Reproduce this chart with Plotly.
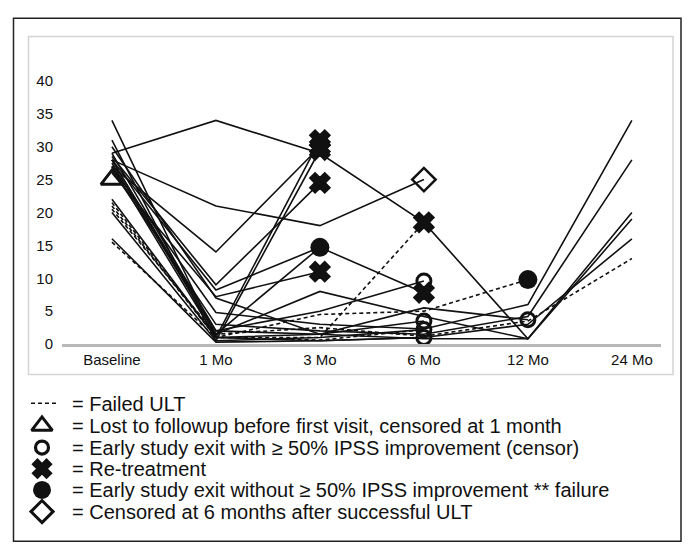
import plotly.graph_objects as go

# measured: the page is photographed with the figure 8px in from the left, flush at the top
OFF_X, OFF_Y = 8, 0
SW, SH = 694, 552                     # screen size
FW, FH = SW - 2 * OFF_X, SH - OFF_Y   # figure size

# ---------------- data ----------------
time_labels = ["Baseline", "1 Mo", "3 Mo", "6 Mo", "12 Mo", "24 Mo"]
y_ticks = [0, 5, 10, 15, 20, 25, 30, 35, 40]

# IPSS per patient (Baseline, 1, 3, 6, 12, 24 Mo); None = no visit
s01 = [29, 34, 29, 18.5, 0.8, 20]
s02 = [28, 21, 18, 25, None, None]
s03 = [27, 14, 30, None, None, None]
s04 = [34, 1, 31, None, None, None]
s05 = [31, 0.5, 29.5, None, None, None]
s06 = [28.5, 9, 24.5, None, None, None]
s07 = [28, 8.2, 14.7, None, None, None]
s08 = [26, 7.2, 11, None, None, None]
s09 = [27.5, 1.5, 14.7, 7.8, None, None]
s10 = [28, 1.5, 8, 4.2, 0.8, 19]
s11 = [29, 2, 5, 9.6, None, None]
s12 = [22, 1, 1.5, 3.5, None, None]
s13 = [20, 0.5, 1, 2.2, None, None]
s14 = [16, 0.3, 0.5, 1.0, None, None]
s15 = [27, 4.8, 3, 2.3, 6, 34]
s16 = [26.5, 3, 2, 1.5, 4.2, 28]
s17 = [28, 2, 1.5, 5.5, 3.7, None]
s18 = [27, 1, 0.5, 1, 3, 16]
s19 = [30, 7, 1.5, 0.8, 0.8, None]
t01 = [25, None, None, None, None, None]

# failed ULT (dashed)
d01 = [21, 1, 1, 18.5, None, None]
d02 = [15.5, 1, 4.5, 5, 9.8, None]
d03 = [20.5, 1.5, 2.5, 1.2, 3.5, 13]
d04 = [21.5, 1, 0.6, 2.2, None, None]

solid_patients = [s01, s02, s03, s04, s05, s06, s07, s08, s09, s10,
                  s11, s12, s13, s14, s15, s16, s17, s18, s19, t01]
dashed_patients = [d01, d02, d03, d04]

# events: (patient, visit index)
retreat_events = [(s03, 2), (s04, 2), (s05, 2), (s06, 2), (s08, 2), (d01, 3), (s09, 3)]
failure_events = [(s07, 2), (d02, 4)]
censor_events = [(s11, 3), (s12, 3), (s13, 3), (s14, 3), (s17, 4)]
censor6_events = [(s02, 3)]
lost_events = [(t01, 0)]

legend_texts = [
    "= Failed ULT",
    "= Lost to followup before first visit, censored at 1 month",
    "= Early study exit with \u2265 50% IPSS improvement (censor)",
    "= Re-treatment",
    "= Early study exit without \u2265 50% IPSS improvement ** failure",
    "= Censored at 6 months after successful ULT",
]

# ---------------- geometry (screen pixels) ----------------
PL, PR = 62, 661      # plot area left/right
PB, PT = 341, 47.3    # plot area bottom/top
FONT = "Liberation Sans, Arial, Helvetica, sans-serif"
INK = "#111111"


def fx(px):
    return (px - OFF_X) / FW


def fy(py):
    return 1 - (py - OFF_Y) / FH


fig = go.Figure()


def add_patient(vals, dash):
    xs = [i for i, v in enumerate(vals) if v is not None]
    ys = [v for v in vals if v is not None]
    fig.add_trace(go.Scatter(
        x=xs, y=ys, mode="lines",
        line=dict(color=INK, width=1.6, dash=dash),
        showlegend=False, hoverinfo="skip", xaxis="x", yaxis="y"))


for p in solid_patients:
    add_patient(p, "solid")
for p in dashed_patients:
    add_patient(p, "4px,3px")


def add_events(events, symbol, size, lw, fill):
    fig.add_trace(go.Scatter(
        x=[i for _, i in events], y=[p[i] for p, i in events],
        mode="markers", cliponaxis=False,
        marker=dict(symbol=symbol, size=size, color=fill,
                    line=dict(color=INK, width=lw)),
        showlegend=False, hoverinfo="skip", xaxis="x", yaxis="y"))


add_events(lost_events, "triangle-up-open", 19, 3, INK)
add_events(censor_events, "circle-open", 14, 3, INK)
add_events(retreat_events, "x", 17, 2.2, INK)
add_events(failure_events, "circle", 19, 0, INK)
add_events(censor6_events, "diamond-open", 18, 2.5, INK)

# ---------------- legend (pixel-coordinate helper axes) ----------------
LEG_TOP = 382
row_y = [402, 424, 446, 467.5, 489, 511]
sym_x = 42
fig.add_trace(go.Scatter(
    x=[31, 58], y=[row_y[0] - 1, row_y[0] - 1], mode="lines",
    line=dict(color=INK, width=1.6, dash="4px,3px"),
    showlegend=False, hoverinfo="skip", xaxis="x2", yaxis="y2"))
leg_syms = [("triangle-up-open", 18, 3, INK),
            ("circle-open", 13, 3.2, INK),
            ("x", 16, 2.2, INK),
            ("circle", 18, 0, INK),
            ("diamond-open", 17, 3, INK)]
for (sym, sz, lw, fc), yy in zip(leg_syms, row_y[1:]):
    fig.add_trace(go.Scatter(
        x=[sym_x], y=[yy], mode="markers", cliponaxis=False,
        marker=dict(symbol=sym, size=sz, color=fc, line=dict(color=INK, width=lw)),
        showlegend=False, hoverinfo="skip", xaxis="x2", yaxis="y2"))

for txt, yy in zip(legend_texts, row_y):
    fig.add_annotation(x=70, y=yy, xref="x2", yref="y2", text=txt,
                       showarrow=False, xanchor="left", yanchor="middle",
                       font=dict(family=FONT, size=20, color=INK))

# ---------------- frames ----------------
def rect(x0, y0, x1, y1, color, width):
    fig.add_shape(type="rect", xref="paper", yref="paper",
                  x0=fx(x0), x1=fx(x1), y0=fy(y0), y1=fy(y1),
                  line=dict(color=color, width=width), fillcolor="rgba(0,0,0,0)",
                  layer="below")


rect(13.5, 10.5, 681, 541, "#222222", 1.5)
rect(28.5, 29, 673, 372, "#d4d4d4", 1.5)

fig_bottom = OFF_Y + FH
fig.update_layout(
    width=FW, height=FH,
    margin=dict(l=0, r=0, t=0, b=0),
    paper_bgcolor="white", plot_bgcolor="rgba(0,0,0,0)",
    showlegend=False,
    xaxis=dict(domain=[fx(PL), fx(PR)], range=[-0.48, 5.28],
               tickmode="array", tickvals=list(range(len(time_labels))),
               ticktext=time_labels, showgrid=False, zeroline=False,
               showline=True, linecolor="#b8b8b8", linewidth=2.5,
               ticks="", tickfont=dict(family=FONT, size=15, color=INK),
               fixedrange=True),
    yaxis=dict(domain=[fy(PB), fy(PT)], range=[0, 44],
               tickmode="array", tickvals=y_ticks,
               showgrid=False, zeroline=False, showline=False,
               ticks="", ticklabelstandoff=8,
               tickfont=dict(family=FONT, size=15, color=INK),
               fixedrange=True),
    xaxis2=dict(domain=[0, 1], range=[OFF_X, OFF_X + FW], visible=False, fixedrange=True),
    yaxis2=dict(domain=[0, (fig_bottom - LEG_TOP) / FH], range=[fig_bottom, LEG_TOP],
                visible=False, fixedrange=True),
)

fig.write_html("out.html")
